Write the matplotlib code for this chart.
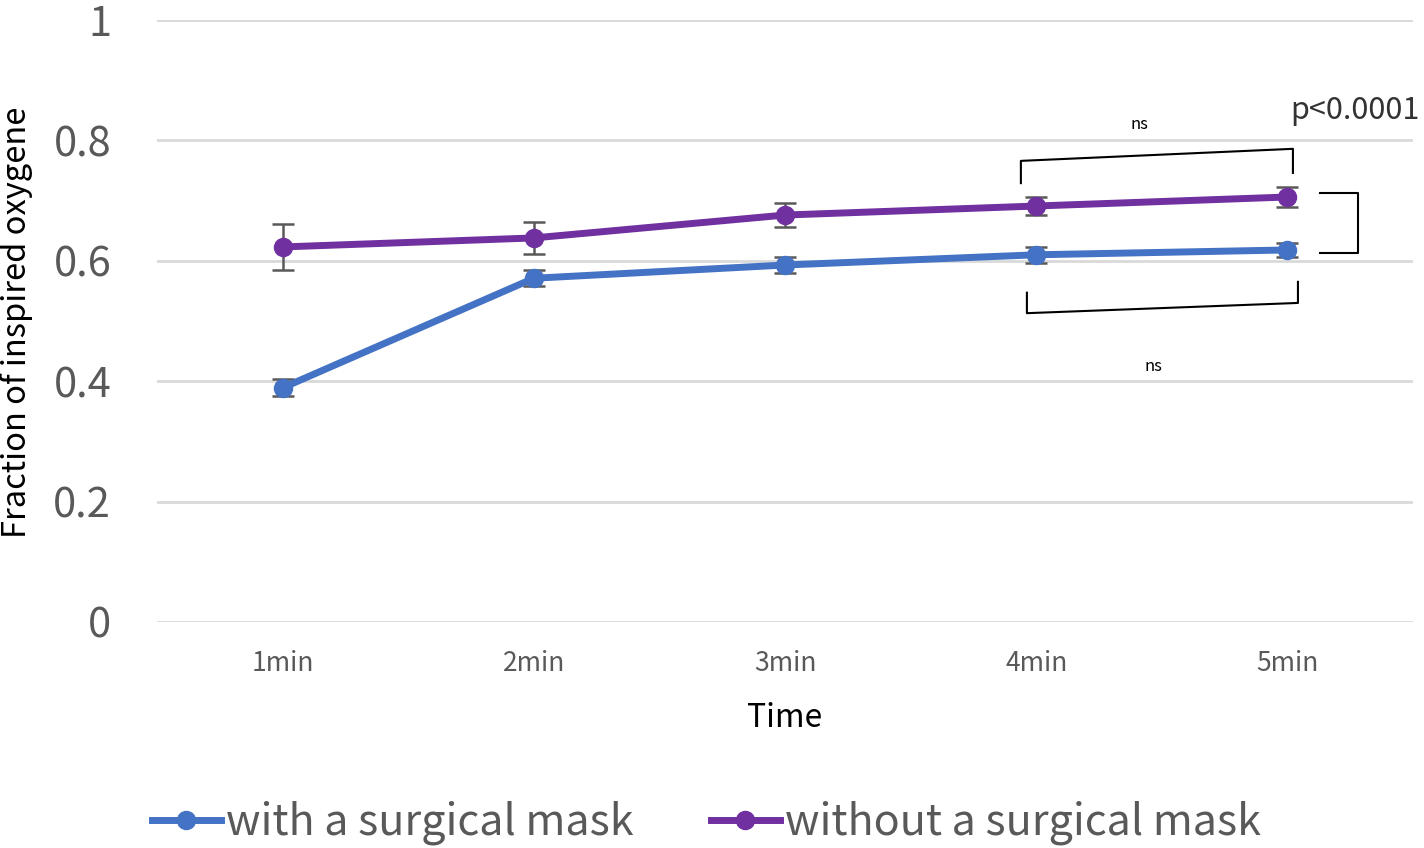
import matplotlib.pyplot as plt
from matplotlib.lines import Line2D
import numpy as np

plt.rcParams['font.family'] = ['Noto Sans CJK JP', 'DejaVu Sans']

times = ['1min', '2min', '3min', '4min', '5min']
with_mask = [0.389, 0.571, 0.593, 0.610, 0.618]
with_mask_err = [0.014, 0.013, 0.013, 0.013, 0.012]
without_mask = [0.623, 0.638, 0.676, 0.691, 0.706]
without_mask_err = [0.038, 0.027, 0.020, 0.015, 0.016]

x = np.arange(len(times))
blue = '#4472C4'
purple = '#7030A0'
grey = '#595959'

fig = plt.figure(figsize=(14.24, 8.48), dpi=100)
ax = fig.add_axes([157 / 1424, 1 - 622 / 848, (1413 - 157) / 1424, 602 / 848])

# Data series with error bars
handles = []
for y, err, col, lab in [(with_mask, with_mask_err, blue, 'with a surgical mask'),
                         (without_mask, without_mask_err, purple, 'without a surgical mask')]:
    ax.errorbar(x, y, yerr=err, color=col, lw=5, marker='o', ms=13,
                ecolor=grey, elinewidth=1.8, capsize=8, capthick=1.8, zorder=3)
    handles.append(Line2D([], [], color=col, lw=5, marker='o', ms=13, label=lab))

ax.set_xlim(-0.5, 4.5)
ax.set_ylim(0, 1)
ax.set_yticks([0, 0.2, 0.4, 0.6, 0.8, 1])
ax.set_yticklabels(['0', '0.2', '0.4', '0.6', '0.8', '1'])
ax.set_xticks(x)
ax.set_xticklabels(times)
ax.tick_params(axis='y', labelsize=30, labelcolor=grey, length=0, pad=33)
ax.tick_params(axis='x', labelsize=19, labelcolor=grey, length=0, pad=20)
ax.grid(axis='y', color='#D9D9D9', lw=2)
ax.set_axisbelow(True)
for s in ax.spines.values():
    s.set_visible(False)

ax.set_xlabel('Time', fontsize=23, labelpad=18)
fig.text(17 / 1424, 1 - 322 / 848, 'Fraction of inspired oxygene', fontsize=23.5,
         rotation=90, ha='center', va='center')

# Significance brackets
ax.plot([2.939, 2.939, 4.022, 4.022], [0.729, 0.766, 0.786, 0.746], color='black', lw=1.5)
ax.plot([2.963, 2.963, 4.042, 4.042], [0.547, 0.513, 0.530, 0.565], color='black', lw=1.5)
ax.plot([4.130, 4.281, 4.281, 4.130], [0.713, 0.713, 0.613, 0.613], color='black', lw=1.5)
ax.text(3.409, 0.826, 'ns', ha='center', va='center', fontsize=12)
ax.text(3.465, 0.425, 'ns', ha='center', va='center', fontsize=12)
ax.text(4.010, 0.850, 'p<0.0001', ha='left', va='center', fontsize=22, color='#333333')

fig.legend(handles=handles, loc='center', bbox_to_anchor=(0.496, 1 - 823 / 848), ncol=2,
           frameon=False, fontsize=31, handlelength=1.6, columnspacing=1.8,
           handletextpad=0.12, labelcolor=grey)

fig.savefig('out.png', dpi=100)
